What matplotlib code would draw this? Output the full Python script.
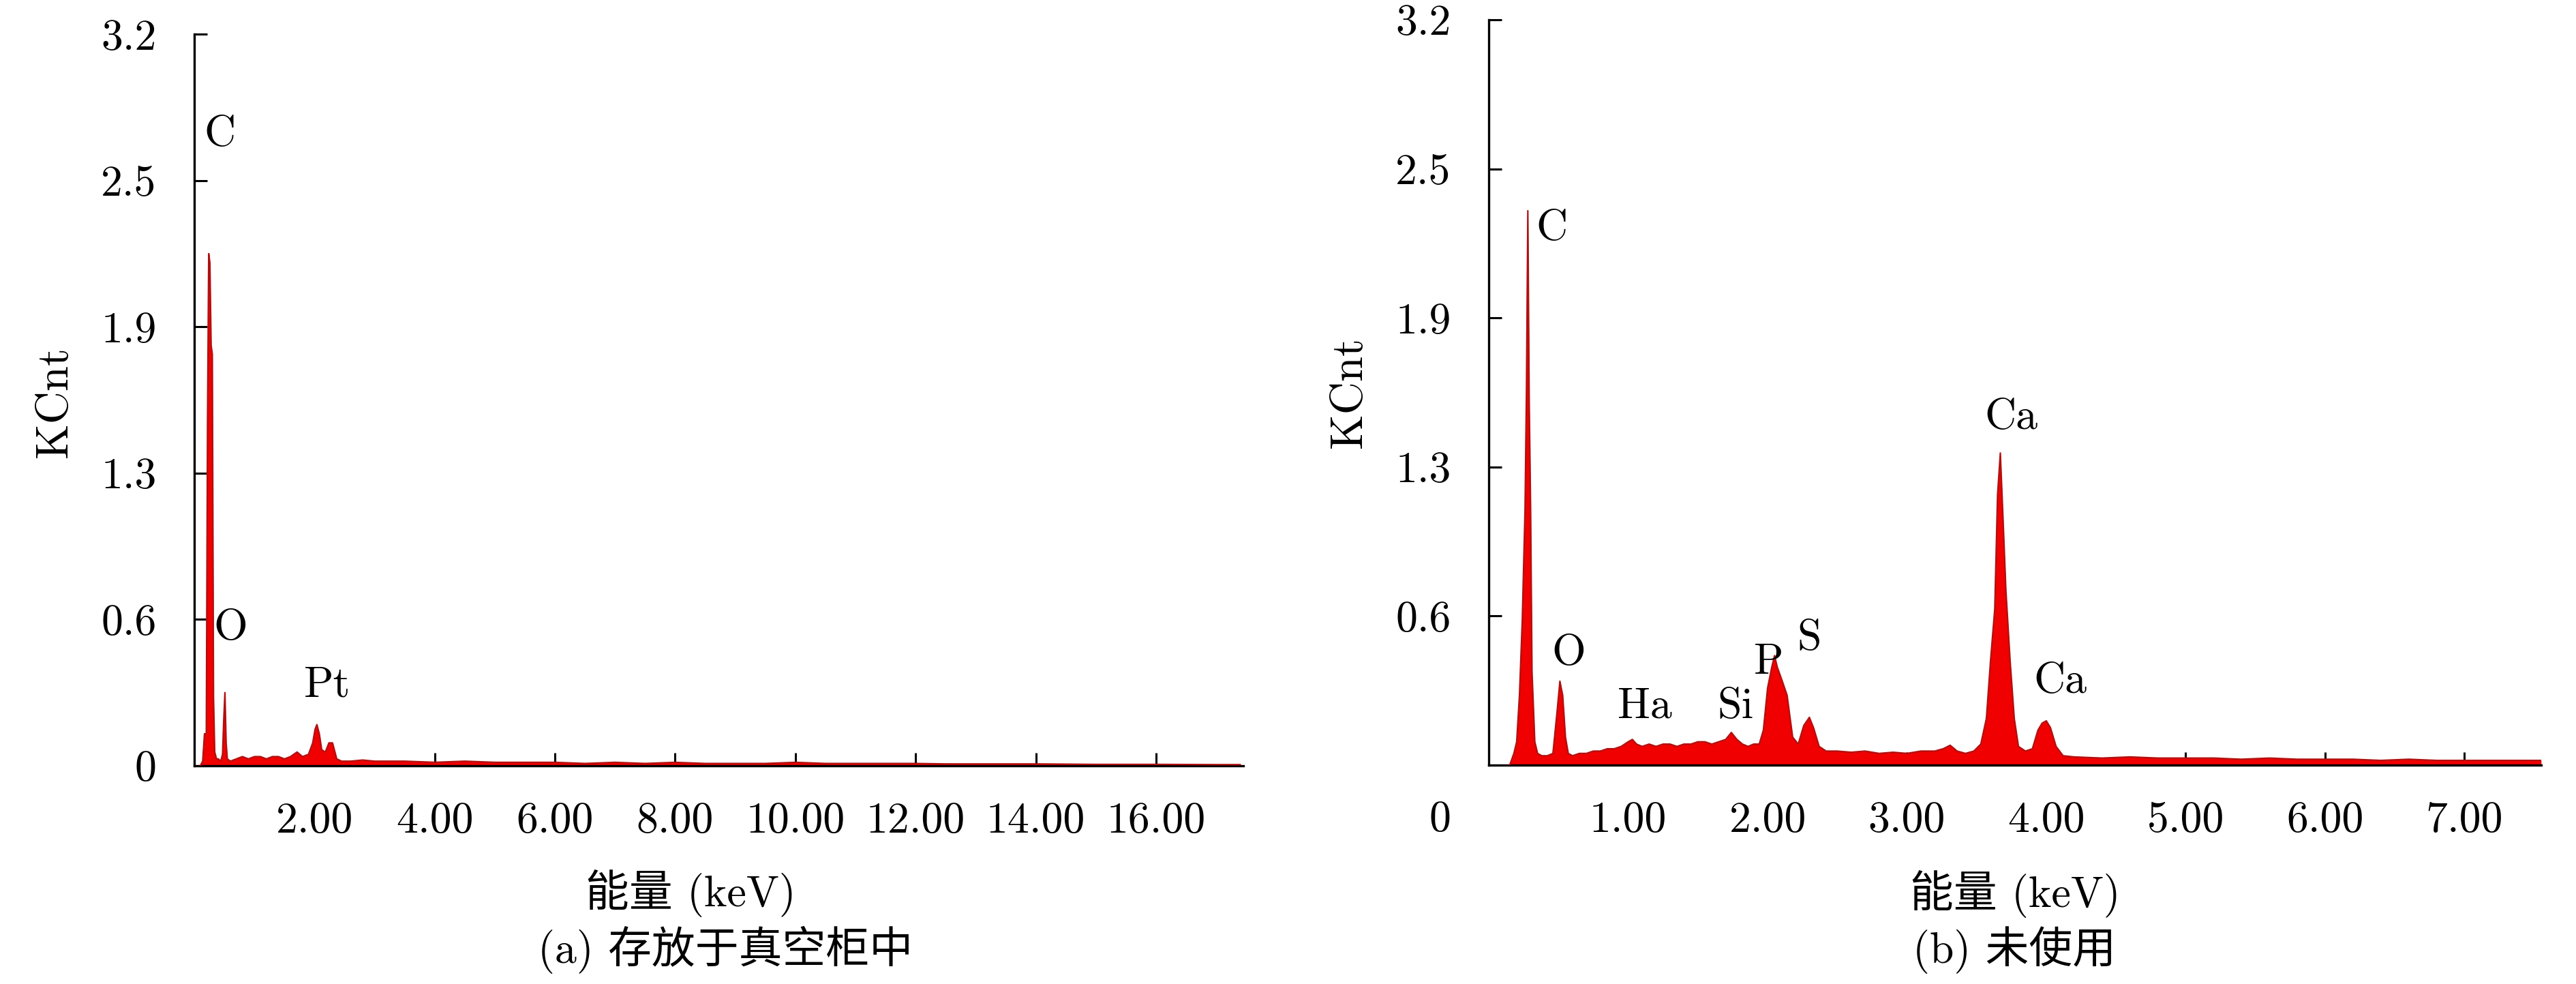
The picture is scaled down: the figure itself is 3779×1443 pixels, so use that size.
import matplotlib
matplotlib.use("Agg")
from matplotlib import pyplot as plt

plt.rcParams['font.family'] = ['cmr10', 'Noto Sans CJK SC', 'DejaVu Sans']
plt.rcParams['axes.unicode_minus'] = False

# (a) stored in vacuum cabinet: energy (keV) and counts (KCnt)
e_a = [0.10, 0.14, 0.17, 0.20, 0.22, 0.24, 0.26, 0.28, 0.30, 0.32, 0.34, 0.37, 0.40, 0.44,
       0.47, 0.49, 0.51, 0.53, 0.55, 0.60, 0.70, 0.80, 0.90, 1.00, 1.10, 1.20, 1.30, 1.40,
       1.50, 1.60, 1.71, 1.80, 1.90, 1.97, 2.01, 2.04, 2.08, 2.12, 2.18, 2.24, 2.30, 2.37,
       2.45, 2.60, 2.80, 3.00, 3.50, 4.00, 4.50, 5.00, 5.50, 6.00, 6.50, 7.00, 7.50, 8.00,
       8.50, 9.00, 9.50, 10.0, 10.5, 11.0, 11.5, 12.0, 12.5, 13.0, 14.0, 15.0, 16.0, 17.0, 17.4]
k_a = [0.00, 0.02, 0.14, 0.14, 1.50, 2.24, 2.20, 1.84, 1.80, 0.30, 0.06, 0.03, 0.03, 0.02,
       0.05, 0.20, 0.32, 0.10, 0.03, 0.02, 0.03, 0.04, 0.03, 0.04, 0.04, 0.03, 0.04, 0.04,
       0.03, 0.04, 0.06, 0.04, 0.05, 0.10, 0.16, 0.18, 0.14, 0.07, 0.06, 0.10, 0.10, 0.03,
       0.02, 0.02, 0.025, 0.02, 0.02, 0.015, 0.02, 0.015, 0.015, 0.015, 0.01, 0.015, 0.01, 0.015,
       0.01, 0.01, 0.01, 0.015, 0.01, 0.01, 0.01, 0.01, 0.008, 0.008, 0.008, 0.006, 0.006, 0.005, 0.005]
lab_a = ['C', 'O', 'Pt']
lab_a_e = [0.42, 0.60, 2.21]
lab_a_k = [2.76, 0.60, 0.35]

# (b) unused
e_b = [0.15, 0.18, 0.20, 0.22, 0.24, 0.26, 0.27, 0.28, 0.29, 0.30, 0.31, 0.33, 0.35, 0.38,
       0.42, 0.46, 0.49, 0.51, 0.53, 0.55, 0.57, 0.60, 0.65, 0.70, 0.75, 0.80, 0.85, 0.90,
       0.95, 1.00, 1.03, 1.06, 1.10, 1.15, 1.20, 1.25, 1.30, 1.35, 1.40, 1.45, 1.50, 1.55,
       1.60, 1.65, 1.70, 1.74, 1.78, 1.82, 1.86, 1.90, 1.94, 1.97, 2.00, 2.03, 2.05, 2.07,
       2.10, 2.14, 2.18, 2.22, 2.26, 2.30, 2.33, 2.37, 2.42, 2.50, 2.60, 2.70, 2.80, 2.90,
       3.00, 3.10, 3.20, 3.26, 3.31, 3.36, 3.42, 3.48, 3.53, 3.57, 3.60, 3.63, 3.65, 3.67,
       3.69, 3.71, 3.74, 3.77, 3.80, 3.85, 3.90, 3.94, 3.97, 4.00, 4.03, 4.07, 4.12, 4.20,
       4.40, 4.60, 4.80, 5.00, 5.20, 5.40, 5.60, 5.80, 6.00, 6.20, 6.40, 6.60, 6.80, 7.00,
       7.20, 7.40, 7.55]
k_b = [0.00, 0.05, 0.10, 0.30, 0.62, 1.10, 1.60, 2.38, 1.56, 1.10, 0.40, 0.10, 0.05, 0.04,
       0.04, 0.05, 0.23, 0.36, 0.30, 0.12, 0.05, 0.04, 0.05, 0.05, 0.06, 0.06, 0.07, 0.07,
       0.08, 0.10, 0.11, 0.09, 0.08, 0.09, 0.08, 0.09, 0.09, 0.08, 0.09, 0.09, 0.10, 0.10,
       0.09, 0.10, 0.11, 0.14, 0.11, 0.09, 0.08, 0.09, 0.09, 0.15, 0.33, 0.42, 0.47, 0.42,
       0.37, 0.30, 0.12, 0.09, 0.17, 0.205, 0.16, 0.08, 0.06, 0.06, 0.055, 0.06, 0.05, 0.055,
       0.05, 0.06, 0.06, 0.07, 0.085, 0.06, 0.05, 0.06, 0.09, 0.20, 0.45, 0.67, 1.16, 1.34,
       1.05, 0.75, 0.45, 0.20, 0.08, 0.06, 0.07, 0.15, 0.18, 0.19, 0.16, 0.08, 0.04, 0.035,
       0.03, 0.035, 0.03, 0.03, 0.03, 0.025, 0.03, 0.025, 0.025, 0.025, 0.02, 0.025, 0.02, 0.02,
       0.02, 0.02, 0.02]
lab_b = ['C', 'O', 'Ha', 'Si', 'P', 'S', 'Ca', 'Ca']
lab_b_e = [0.45, 0.575, 1.12, 1.77, 2.01, 2.30, 3.75, 4.10]
lab_b_k = [2.30, 0.477, 0.25, 0.25, 0.44, 0.54, 1.49, 0.357]

y_ticks = [0, 0.64, 1.28, 1.92, 2.56, 3.2]
y_ticklabels = ['0', '0.6', '1.3', '1.9', '2.5', '3.2']
xt_a = [2, 4, 6, 8, 10, 12, 14, 16]
xt_b = [1, 2, 3, 4, 5, 6, 7]

FS = 46
fig = plt.figure(figsize=(37.8, 14.43), dpi=100)
ax1 = fig.add_axes([0.0754, 0.2218, 0.4071, 0.7435])
ax2 = fig.add_axes([0.5778, 0.2225, 0.4084, 0.7574])


def style(ax, e, k, xmax, xt, labs, le, lk):
    ax.fill_between(e, k, 0, color='#f00000', linewidth=0, zorder=2)
    ax.plot(e, k, color='#b01010', linewidth=1.6, zorder=3)
    for t, x, y in zip(labs, le, lk):
        ax.text(x, y, t, fontsize=FS, ha='center', va='center')
    ax.set_xlim(0, xmax)
    ax.set_ylim(0, 3.2)
    ax.set_yticks(y_ticks)
    ax.set_yticklabels(y_ticklabels)
    ax.set_xticks(xt)
    ax.set_xticklabels(['%.2f' % v for v in xt])
    for s in ['top', 'right']:
        ax.spines[s].set_visible(False)
    for s in ['left', 'bottom']:
        ax.spines[s].set_linewidth(2.4)
    ax.tick_params(direction='in', length=14, width=2.2, labelsize=FS)
    ax.tick_params(axis='y', pad=40)
    ax.tick_params(axis='x', pad=38)
    ax.set_ylabel('KCnt', fontsize=FS + 2)
    ax.set_xlabel('能量 (keV)', fontsize=FS)


style(ax1, e_a, k_a, 17.45, xt_a, lab_a, lab_a_e, lab_a_k)
style(ax2, e_b, k_b, 7.55, xt_b, lab_b, lab_b_e, lab_b_k)

ax1.yaxis.set_label_coords(-0.113, 0.497)
ax2.yaxis.set_label_coords(-0.113, 0.5)
ax1.xaxis.set_label_coords(0.473, -0.142)
ax2.xaxis.set_label_coords(0.5, -0.141)

# the right panel's "0" label sits below the axis, left of the spine
ax2.yaxis.get_major_ticks()[0].label1.set_visible(False)
ax2.text(-0.35, -0.048, '0', fontsize=FS, ha='center', va='top',
         transform=ax2.get_xaxis_transform())

fig.text(0.2815, 0.0347, '(a) 存放于真空柜中', fontsize=FS, ha='center', va='center')
fig.text(0.7817, 0.0347, '(b) 未使用', fontsize=FS, ha='center', va='center')

fig.savefig('out.png', dpi=100)
